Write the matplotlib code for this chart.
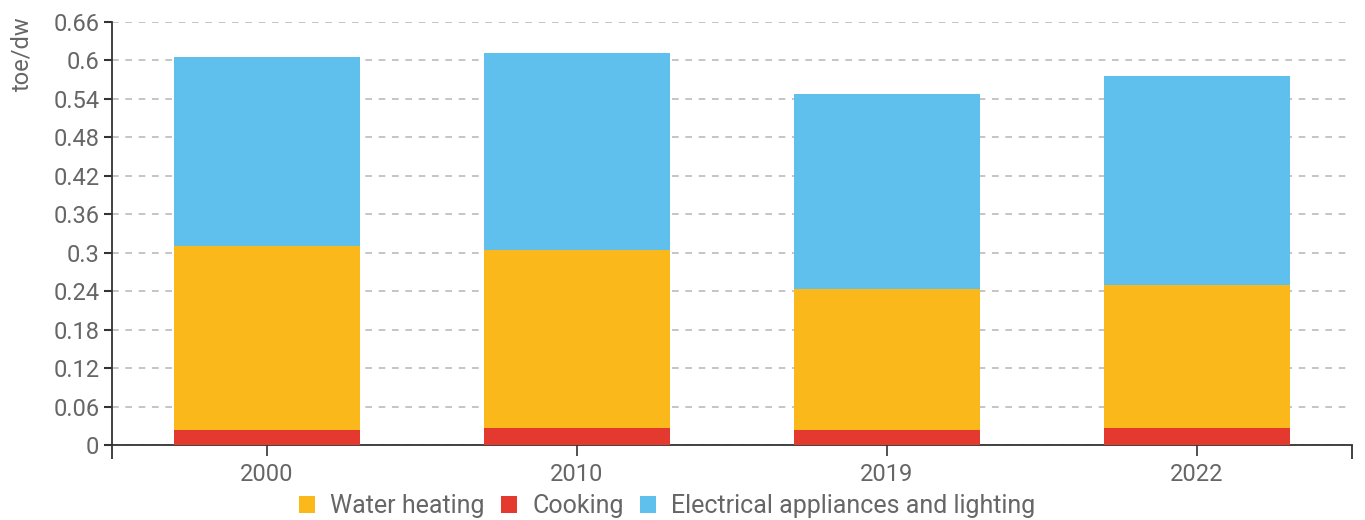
import matplotlib.pyplot as plt
from matplotlib.ticker import FixedLocator

years = ["2000", "2010", "2019", "2022"]
cooking = [0.024, 0.027, 0.024, 0.027]
water_heating = [0.287, 0.277, 0.220, 0.223]
appliances = [0.294, 0.307, 0.304, 0.326]

C_WATER = "#FBB81B"
C_COOK = "#E4392F"
C_ELEC = "#5FC0ED"
TXT = "#666666"
FS = 17

plt.rcParams["font.family"] = ["Roboto", "DejaVu Sans"]

fig = plt.figure(figsize=(13.65, 5.2), dpi=100)
ax = fig.add_axes([0.082, 0.1442, 0.9085, 0.8135])

x = list(range(len(years)))
w = 0.6
ax.bar(x, cooking, width=w, color=C_COOK, label="Cooking", zorder=3)
ax.bar(x, water_heating, width=w, bottom=cooking, color=C_WATER,
       label="Water heating", zorder=3)
bottom2 = [a + b for a, b in zip(cooking, water_heating)]
ax.bar(x, appliances, width=w, bottom=bottom2, color=C_ELEC,
       label="Electrical appliances and lighting", zorder=3)

ax.set_xlim(-0.5, len(years) - 0.5)
ax.set_ylim(0, 0.66)
yt = [i * 0.06 for i in range(12)]
ax.set_yticks(yt)
ax.set_yticklabels(["0", "0.06", "0.12", "0.18", "0.24", "0.3", "0.36",
                    "0.42", "0.48", "0.54", "0.6", "0.66"])
ax.set_xticks(x)
ax.set_xticklabels(years)
ax.xaxis.set_minor_locator(FixedLocator([-0.5, len(years) - 0.5]))
ax.tick_params(axis="x", which="minor", length=10, width=1.3, color="#333333")
ax.tick_params(axis="x", which="major", length=8, width=1.2, color="#333333",
               labelsize=FS, labelcolor=TXT, pad=5)
ax.tick_params(axis="y", length=6, width=1.5, color="#333333",
               labelsize=FS, labelcolor=TXT, pad=3)

for sp in ["top", "right"]:
    ax.spines[sp].set_visible(False)
for sp in ["left", "bottom"]:
    ax.spines[sp].set_color("#333333")
    ax.spines[sp].set_linewidth(1.3)
ax.spines["left"].set_bounds(0, 0.66)

ax.yaxis.grid(True, color="#bbbbbb", linestyle=(0, (4, 4)), linewidth=1.2, zorder=0)
ax.set_axisbelow(True)

fig.text(0.008, 0.968, "toe/dw", rotation=90, va="top", ha="left",
         fontsize=FS, color=TXT)

handles, labels = ax.get_legend_handles_labels()
order = [1, 0, 2]
fig.legend([handles[i] for i in order], [labels[i] for i in order],
           loc="lower center", bbox_to_anchor=(0.489, -0.04), ncol=3,
           frameon=False, fontsize=18, labelcolor=TXT, handlelength=0.65,
           handleheight=0.65, handletextpad=0.6, columnspacing=0.65)

fig.savefig("out.png", dpi=100)
